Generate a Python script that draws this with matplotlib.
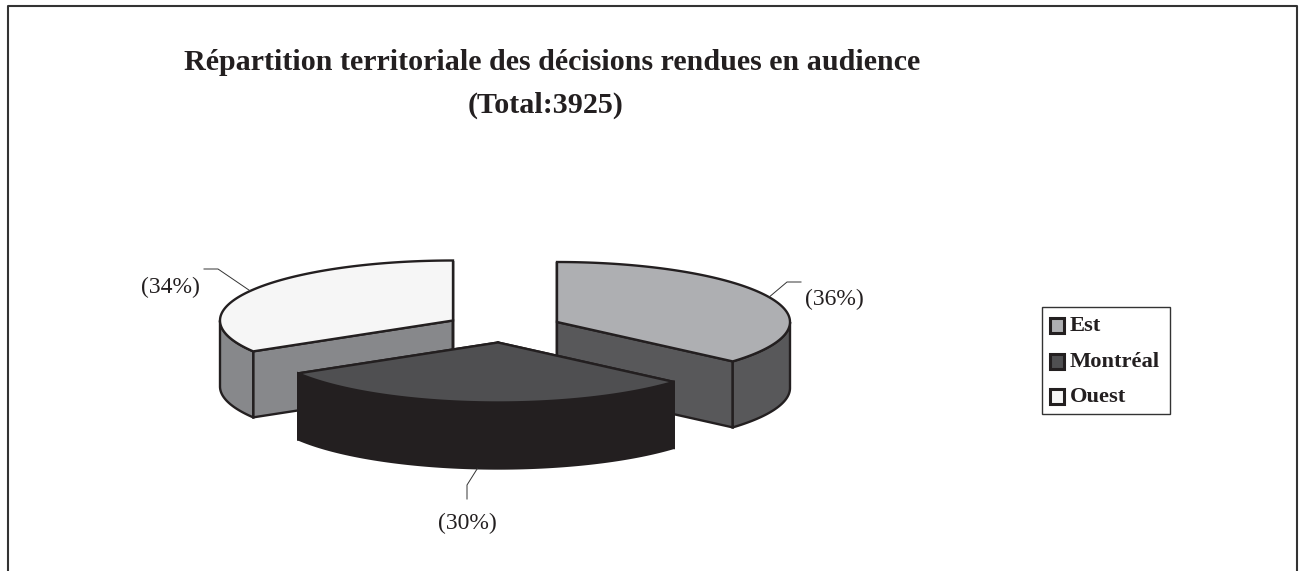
import numpy as np
import matplotlib
matplotlib.use('Agg')
import matplotlib.pyplot as plt
from matplotlib.patches import Polygon, Rectangle, FancyBboxPatch

# Data
categories = ['Est', 'Montréal', 'Ouest']
shares = [36.4, 30.0, 33.6]
share_labels = ['(36%)', '(30%)', '(34%)']
title_lines = ['Répartition territoriale des décisions rendues en audience', '(Total:3925)']

# Colours per slice
top_colors = ['#aeafb2', '#4f4f51', '#f6f6f6']
side_colors = ['#58585a', '#231f20', '#87888b']
edge = '#231f20'

# Pie geometry, in pixels
rx, ry, depth = 233, 60, 66
centers = [(557, 322), (498, 342.5), (453, 320.5)]
elbows = [(787, 282), (467, 485), (218, 269)]
ends = [(801, 282), (467, 499), (204, 269)]
label_pos = [(834, 299), (467, 523), (170, 287)]

plt.rcParams['font.family'] = ['Liberation Serif', 'DejaVu Serif']

fig = plt.figure(figsize=(13.04, 5.71), dpi=100)
ax = fig.add_axes([0, 0, 1, 1])
ax.set_xlim(0, 1304)
ax.set_ylim(571, 0)
ax.axis('off')


def rim(cx, cy, a, b, dy=0):
    # angles in degrees, clockwise from the top of the ellipse
    t = np.radians(np.linspace(a, b, 120))
    return np.column_stack([cx + rx * np.sin(t), cy - ry * np.cos(t) + dy])


edges = np.cumsum([0] + shares) / sum(shares) * 360

# Outer frame, open at the bottom
ax.plot([8, 8, 1297, 1297], [571, 6, 6, 571], color='#333333', lw=1.5)

# Back slices first, Montréal in front
for i in [2, 0, 1]:
    a, b = edges[i], edges[i + 1]
    cx, cy = centers[i]
    for ang in (a, b):
        p = rim(cx, cy, ang, ang)[0]
        wall = [(cx, cy), p, (p[0], p[1] + depth), (cx, cy + depth)]
        ax.add_patch(Polygon(wall, fc=side_colors[i], ec=edge, lw=1.7, joinstyle='miter'))
    lo, hi = max(a, 90), min(b, 270)
    if hi > lo:
        upper = rim(cx, cy, lo, hi)
        lower = rim(cx, cy, lo, hi, depth)[::-1]
        ax.add_patch(Polygon(np.vstack([upper, lower]), fc=side_colors[i], ec=edge, lw=1.7))
    top = np.vstack([[(cx, cy)], rim(cx, cy, a, b)])
    ax.add_patch(Polygon(top, fc=top_colors[i], ec=edge, lw=1.7, joinstyle='miter'))

# Leader lines and percentage labels
for i in range(3):
    mid = (edges[i] + edges[i + 1]) / 2
    cx, cy = centers[i]
    start = rim(cx, cy, mid, mid, depth if 90 < mid < 270 else 0)[0]
    ax.plot([start[0], elbows[i][0], ends[i][0]], [start[1], elbows[i][1], ends[i][1]],
            color='#333333', lw=0.7)
    ax.text(label_pos[i][0], label_pos[i][1], share_labels[i], ha='center', va='center',
            fontsize=17, color='#231f20')

# Title
ax.text(552, 62, title_lines[0], ha='center', va='center', fontsize=21.6,
        fontweight='bold', color='#231f20')
ax.text(546, 105, title_lines[1], ha='center', va='center', fontsize=21.6,
        fontweight='bold', color='#231f20')

# Legend
ax.add_patch(Rectangle((1042, 307), 128, 107, fc='white', ec='#333333', lw=1))
legend_y = [325, 361, 396]
for i in range(3):
    ax.add_patch(Rectangle((1050, legend_y[i] - 7.5), 14, 15, fc=top_colors[i], ec=edge, lw=2.2))
    ax.text(1070, legend_y[i] + 1, categories[i], ha='left', va='center', fontsize=16.2,
            fontweight='bold', color='#231f20')

fig.savefig('out.png', dpi=100)
